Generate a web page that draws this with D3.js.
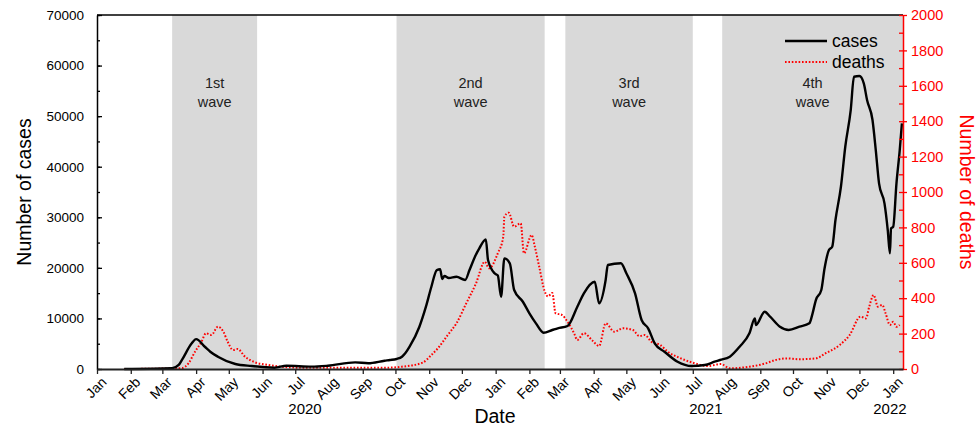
<!DOCTYPE html>
<html>
<head>
<meta charset="utf-8">
<script src="https://cdn.jsdelivr.net/npm/d3@7"></script>
<style>
  body { margin: 0; background: #fff; }
  svg { display: block; font-family: Arial, "Liberation Sans", sans-serif; }
</style>
</head>
<body>
<svg id="chart" width="979" height="426"></svg>
<script>
// daily cases (7-day mean)
const caseDates = [
  "2020-01-26","2020-03-10","2020-03-16","2020-03-19","2020-03-28","2020-04-01","2020-04-09","2020-04-14",
  "2020-04-21","2020-05-07","2020-05-22","2020-06-12","2020-06-23","2020-07-16","2020-07-31","2020-08-25",
  "2020-09-06","2020-09-21","2020-09-26","2020-10-02","2020-10-07","2020-10-10","2020-10-14","2020-10-23",
  "2020-10-29","2020-11-03","2020-11-08","2020-11-11","2020-11-13","2020-11-15","2020-11-19","2020-11-26",
  "2020-12-04","2020-12-08","2020-12-13","2020-12-17","2020-12-23","2020-12-25","2020-12-31","2021-01-03",
  "2021-01-06","2021-01-09","2021-01-14","2021-01-18","2021-01-26","2021-02-01","2021-02-07","2021-02-14",
  "2021-02-22","2021-02-27","2021-03-08","2021-03-17","2021-03-23","2021-04-02","2021-04-06","2021-04-12",
  "2021-04-14","2021-04-26","2021-05-01","2021-05-09","2021-05-15","2021-05-21","2021-05-27","2021-06-05",
  "2021-06-17","2021-06-30","2021-07-12","2021-07-21","2021-07-26","2021-08-04","2021-08-13","2021-08-22",
  "2021-08-27","2021-08-28","2021-09-05","2021-09-10","2021-09-19","2021-09-27","2021-10-07","2021-10-16",
  "2021-10-19","2021-10-22","2021-10-27","2021-10-30","2021-11-03","2021-11-06","2021-11-09","2021-11-14",
  "2021-11-18","2021-11-23","2021-11-26","2021-12-01","2021-12-05","2021-12-08","2021-12-13","2021-12-16",
  "2021-12-19","2021-12-24","2021-12-27","2021-12-29","2021-12-30","2022-01-01","2022-01-04","2022-01-07",
  "2022-01-09"
];
const caseValues = [
  0, 150, 800, 1800, 5080, 5900, 4400, 3420,
  2430, 990, 590, 260, 650, 460, 650, 1320,
  1130, 1640, 1780, 1980, 2430, 3100, 4410, 8360,
  12320, 16270, 19570, 19710, 17800, 18390, 18000, 18250,
  17600, 19570, 22200, 23860, 25640, 21550, 18920, 18500,
  14290, 21880, 20900, 15620, 13300, 11010, 9030, 7180,
  7710, 8050, 8500, 12320, 14970, 17260, 12990, 17600,
  20560, 20900, 18920, 14970, 9690, 8050, 5080, 3420,
  1440, 590, 790, 1440, 1780, 2430, 4410, 7060,
  10020, 8700, 11330, 10340, 8360, 7710, 8360, 9030,
  11010, 13640, 15620, 19910, 23530, 24180, 29460, 36040,
  43950, 51200, 57790, 57930, 56480, 53180, 49230, 43300,
  36710, 32760, 27480, 22870, 27820, 28130, 36710, 43300,
  48570
];

// daily deaths (7-day mean)
const deathDates = [
  "2020-01-26","2020-03-19","2020-03-25","2020-03-31","2020-04-06","2020-04-10","2020-04-15","2020-04-21",
  "2020-04-26","2020-04-30","2020-05-05","2020-05-09","2020-05-16","2020-05-25","2020-06-06","2020-06-18",
  "2020-07-07","2020-09-21","2020-10-07","2020-10-26","2020-11-03","2020-11-09","2020-11-18","2020-11-26",
  "2020-12-05","2020-12-14","2020-12-22","2020-12-26","2021-01-03","2021-01-08","2021-01-09","2021-01-13",
  "2021-01-18","2021-01-24","2021-01-27","2021-02-03","2021-02-06","2021-02-10","2021-02-15","2021-02-18",
  "2021-02-22","2021-02-25","2021-03-03","2021-03-08","2021-03-14","2021-03-17","2021-03-23","2021-03-31",
  "2021-04-06","2021-04-12","2021-04-20","2021-04-28","2021-05-07","2021-05-13","2021-05-18","2021-05-24",
  "2021-06-01","2021-06-08","2021-06-20","2021-07-03","2021-07-15","2021-07-27","2021-08-04","2021-08-22",
  "2021-09-06","2021-09-15","2021-09-26","2021-10-06","2021-10-22","2021-10-31","2021-11-13","2021-11-22",
  "2021-12-02","2021-12-07","2021-12-10","2021-12-14","2021-12-18","2021-12-22","2021-12-25","2021-12-29",
  "2022-01-01","2022-01-04","2022-01-07"
];
const deathValues = [
  0, 5, 32, 98, 154, 202, 192, 239,
  211, 154, 107, 113, 69, 38, 23, 13,
  7, 7, 13, 36, 79, 117, 192, 258,
  371, 484, 606, 569, 654, 747, 860, 883,
  804, 823, 654, 757, 691, 578, 440, 410,
  430, 315, 305, 267, 202, 164, 202, 160,
  130, 258, 211, 230, 220, 186, 192, 154,
  136, 98, 60, 32, 17, 28, 4, 13,
  32, 51, 60, 55, 60, 89, 136, 192,
  296, 286, 352, 418, 352, 362, 315, 249,
  267, 239, 249
];

const waveNames = ["1st", "2nd", "3rd", "4th"];
const waveStarts = ["2020-03-10", "2020-10-02", "2021-03-06", "2021-07-28"];
const waveEnds = ["2020-05-27", "2021-02-15", "2021-07-01", "2022-01-10"];

const caseTicks = d3.range(0, 70001, 10000);
const caseMinorTicks = d3.range(0, 70001, 5000);
const deathTicks = d3.range(0, 2001, 200);
const deathMinorTicks = d3.range(0, 2001, 100);
const yearLabels = ["2020", "2021", "2022"];
const yearLabelDates = ["2020-07-10", "2021-07-13", "2021-12-29"];

const parse = d3.utcParse("%Y-%m-%d");
const cases = caseDates.map((d, i) => ({ date: parse(d), value: caseValues[i] }));
const deaths = deathDates.map((d, i) => ({ date: parse(d), value: deathValues[i] }));

const margin = { top: 15, right: 76, bottom: 57, left: 97 };
const width = 979 - margin.left - margin.right;
const height = 426 - margin.top - margin.bottom;

const svg = d3.select("#chart")
  .append("g")
  .attr("transform", `translate(${margin.left},${margin.top})`);

const x = d3.scaleUtc()
  .domain([parse("2020-01-01"), parse("2022-01-10")])
  .range([0, width]);
const yCases = d3.scaleLinear().domain([0, 70000]).range([height, 0]);
const yDeaths = d3.scaleLinear().domain([0, 2000]).range([height, 0]);

// wave shading
waveNames.forEach((name, i) => {
  const x0 = x(parse(waveStarts[i])), x1 = x(parse(waveEnds[i]));
  svg.append("rect")
    .attr("x", x0).attr("y", 0)
    .attr("width", x1 - x0).attr("height", height)
    .attr("fill", "#d9d9d9");
  const label = svg.append("text")
    .attr("text-anchor", "middle")
    .attr("font-size", 14.5)
    .attr("fill", "#222");
  label.append("tspan").attr("x", (x0 + x1) / 2).attr("y", 73).text(name);
  label.append("tspan").attr("x", (x0 + x1) / 2).attr("y", 91.5).text("wave");
});

// lines
svg.append("path")
  .datum(deaths)
  .attr("fill", "none")
  .attr("stroke", "#ff0000")
  .attr("stroke-width", 2)
  .attr("stroke-dasharray", "1.6,1.8")
  .attr("d", d3.line().curve(d3.curveMonotoneX).x(d => x(d.date)).y(d => yDeaths(d.value)));

svg.append("path")
  .datum(cases)
  .attr("fill", "none")
  .attr("stroke", "#000")
  .attr("stroke-width", 2.4)
  .attr("stroke-linejoin", "round")
  .attr("d", d3.line().curve(d3.curveMonotoneX).x(d => x(d.date)).y(d => yCases(d.value)));

// top frame
svg.append("line")
  .attr("x1", 0).attr("x2", width).attr("y1", 0).attr("y2", 0)
  .attr("stroke", "#000").attr("stroke-width", 1.5);

// left axis
svg.append("g")
  .call(d3.axisLeft(yCases).tickValues(caseMinorTicks).tickSize(-3).tickFormat(""))
  .call(g => g.select(".domain").remove())
  .selectAll("line").attr("stroke", "#000").attr("stroke-width", 1.3);

const leftAxis = svg.append("g")
  .call(d3.axisLeft(yCases).tickValues(caseTicks).tickFormat(d3.format("d"))
    .tickSizeInner(-5).tickSizeOuter(0).tickPadding(13));
leftAxis.select(".domain").attr("stroke", "#000").attr("stroke-width", 1.5);
leftAxis.selectAll("line").attr("stroke", "#000").attr("stroke-width", 1.3);
leftAxis.selectAll("text").attr("font-size", 13.5).attr("fill", "#000")
  .attr("font-family", "Arial, 'Liberation Sans', sans-serif");

// right axis
svg.append("g")
  .attr("transform", `translate(${width},0)`)
  .call(d3.axisRight(yDeaths).tickValues(deathMinorTicks).tickSize(-4).tickFormat(""))
  .call(g => g.select(".domain").remove())
  .selectAll("line").attr("stroke", "#ff0000").attr("stroke-width", 1.3);

const rightAxis = svg.append("g")
  .attr("transform", `translate(${width},0)`)
  .call(d3.axisRight(yDeaths).tickValues(deathTicks).tickFormat(d3.format("d"))
    .tickSizeInner(4).tickSizeOuter(0).tickPadding(4));
rightAxis.select(".domain").attr("stroke", "#ff0000").attr("stroke-width", 1.5);
rightAxis.selectAll("line").attr("stroke", "#ff0000").attr("stroke-width", 1.3);
rightAxis.selectAll("text").attr("font-size", 14.5).attr("fill", "#ff0000")
  .attr("font-family", "Arial, 'Liberation Sans', sans-serif");

// bottom axis
const bottomAxis = svg.append("g")
  .attr("transform", `translate(0,${height})`)
  .call(d3.axisBottom(x)
    .ticks(d3.utcMonth.every(1))
    .tickFormat(d3.utcFormat("%b"))
    .tickSizeInner(5).tickSizeOuter(0));
bottomAxis.select(".domain").attr("stroke", "#222").attr("stroke-width", 2);
bottomAxis.selectAll("line").attr("stroke", "#222").attr("stroke-width", 1.3);
bottomAxis.selectAll("text")
  .attr("font-size", 14).attr("fill", "#000")
  .attr("font-family", "Arial, 'Liberation Sans', sans-serif")
  .attr("text-anchor", "end")
  .attr("x", 0).attr("y", 0).attr("dy", 0)
  .attr("transform", "translate(10,14) rotate(-45)");

yearLabels.forEach((yr, i) => {
  svg.append("text")
    .attr("x", x(parse(yearLabelDates[i])))
    .attr("y", height + 45)
    .attr("text-anchor", "middle")
    .attr("font-size", 15)
    .attr("fill", "#000")
    .text(yr);
});

// axis titles
svg.append("text")
  .attr("x", width / 2 - 5).attr("y", height + 54)
  .attr("text-anchor", "middle")
  .attr("font-size", 19.5)
  .text("Date");

d3.select("#chart").append("text")
  .attr("transform", `translate(31,${margin.top + height / 2}) rotate(-90)`)
  .attr("text-anchor", "middle")
  .attr("font-size", 19.5)
  .text("Number of cases");

d3.select("#chart").append("text")
  .attr("transform", `translate(960,${margin.top + height / 2}) rotate(90)`)
  .attr("text-anchor", "middle")
  .attr("font-size", 19.5)
  .attr("fill", "#ff0000")
  .text("Number of deaths");

// legend
const legend = svg.append("g").attr("transform", `translate(${785 - margin.left},${41 - margin.top})`);
legend.append("line").attr("x1", 0).attr("x2", 42).attr("y1", 0).attr("y2", 0)
  .attr("stroke", "#000").attr("stroke-width", 2.4);
legend.append("text").attr("x", 47).attr("y", 6).attr("font-size", 17.5).text("cases");
legend.append("line").attr("x1", 0).attr("x2", 42).attr("y1", 21).attr("y2", 21)
  .attr("stroke", "#ff0000").attr("stroke-width", 2).attr("stroke-dasharray", "1.6,1.8");
legend.append("text").attr("x", 47).attr("y", 27).attr("font-size", 17.5).text("deaths");
</script>
</body>
</html>
